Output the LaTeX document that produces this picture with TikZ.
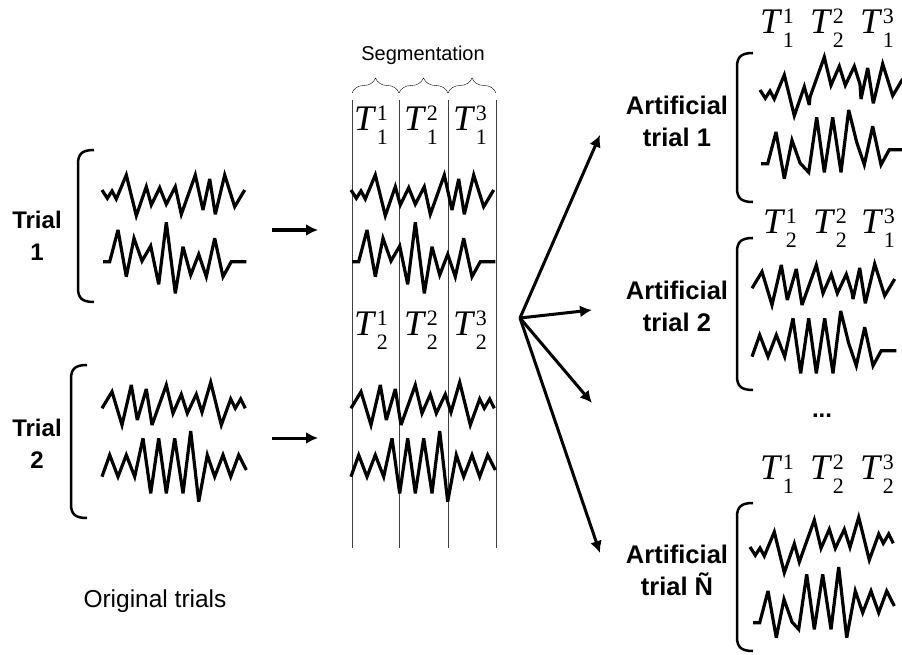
\documentclass[tikz,border=0pt]{standalone}
\usepackage{fontspec}
\setmainfont{Liberation Sans}
\newfontfamily\segfont{Liberation Serif}
\usepackage{tikz}
\usetikzlibrary{calc, decorations.pathreplacing, arrows.meta}

% the four recorded signals, each cut into its three segments
\newcommand{\sigAa}{(102,190) -- (107.3,198.3) -- (112,191) -- (116.3,199) -- (126.3,175) -- (136.3,215.7) -- (146.3,186.7) -- (151.3,205)}
\newcommand{\sigAb}{(159.7,187.7) -- (166.3,204.3) -- (175.3,186.7) -- (181.3,214.3) -- (195.3,175)}
\newcommand{\sigAc}{(203,210) -- (209.7,179) -- (215.3,214.3) -- (224.7,175) -- (234.7,206.7) -- (244.7,190)}
\newcommand{\sigBa}{(103,261.7) -- (109.7,261.7) -- (118,230) -- (126.3,276.7) -- (134,238.3) -- (142,261)}
\newcommand{\sigBb}{(150.7,246) -- (158.7,284.3) -- (166.3,222.3) -- (175.3,293.3) -- (183,246.7) -- (190.7,275)}
\newcommand{\sigBc}{(198.7,254.3) -- (206.3,276.7) -- (214.7,238.3) -- (223,276.7) -- (231.3,261.7) -- (246.3,261.7)}
\newcommand{\sigCa}{(102,408.3) -- (112,391.7) -- (122,425) -- (131.3,385) -- (137.3,420) -- (146.3,389)}
\newcommand{\sigCb}{(152,425) -- (166.3,385) -- (173,413.3) -- (181.3,394.3) -- (187.3,413.3) -- (196.3,394.3) -- (202,412.3)}
\newcommand{\sigCc}{(210.7,382.3) -- (221.3,425) -- (230.7,399) -- (235.3,408.3) -- (240.7,399) -- (245.3,408.3)}
\newcommand{\sigDa}{(102,476.7) -- (109.7,455) -- (118,476.7) -- (126.3,455) -- (134.7,476.7) -- (143,438.3)}
\newcommand{\sigDb}{(150.7,493.3) -- (158.7,438.3) -- (166.3,493.3) -- (174.7,438.3) -- (183,493.3) -- (190.7,431)}
\newcommand{\sigDc}{(198.7,501.7) -- (207.3,455) -- (214.7,476.7) -- (223,455) -- (230.7,476.7) -- (238.7,455) -- (246.3,470)}

% x, top, bottom
\newcommand{\trialbracket}[3]{%
  \draw[bracket] (#1+16,#2) .. controls (#1+4,#2) and (#1,#2+4) .. (#1,#2+14) -- (#1,#3-14)
    .. controls (#1,#3-4) and (#1+4,#3) .. (#1+16,#3);}

% segment T, trial #1, piece #2
\newcommand{\segT}[2]{\textit{T}\kern0.5pt\rlap{\raisebox{10pt}{\fontsize{22}{22}\selectfont #2}}\raisebox{-14pt}{\fontsize{22}{22}\selectfont #1}}

\tikzset{
 wave/.style = {
    line width=3.2pt, line join=miter, miter limit=4},
 line/.style = {
    draw, line width=3pt, -{Latex[length=12pt,width=12pt]}},
 bracket/.style = {
    line width=2.5pt},
 divider/.style = {
    draw, line width=0.9pt, black!75},
 trial label/.style = {
    align=center, font=\fontsize{24}{32}\selectfont\bfseries},
 art label/.style = {
    align=center, font=\fontsize{25.5}{32}\selectfont\bfseries},
 seg label/.style = {
    inner sep=0pt, font=\segfont\fontsize{36}{38}\selectfont},
}

\begin{document}
\begin{tikzpicture}[x=1pt, y=-1pt]
\useasboundingbox (0,0) rectangle (902,655);

                            % Original trials
                            \node [trial label] (trial1) at (37,236) {Trial\\1};
                            \node [trial label] (trial2) at (37,444) {Trial\\2};
                            \node [font=\fontsize{24.5}{28}\selectfont] (orig) at (155,601) {Original trials};
                            \trialbracket{78}{150}{302}
                            \trialbracket{71}{365}{518}
                            \draw[wave] \sigAa -- \sigAb -- \sigAc;
                            \draw[wave] \sigBa -- \sigBb -- \sigBc;
                            \draw[wave] \sigCa -- \sigCb -- \sigCc;
                            \draw[wave] \sigDa -- \sigDb -- \sigDc;

                            \coordinate (o1) at (272,230);
                            \coordinate (s1) at (318,230);
                            \coordinate (o2) at (272,438);
                            \coordinate (s2) at (318,438);
                            \path [line] (o1) -- (s1);
                            \path [line] (o2) -- (s2);

                            % Segmentation
                            \node [font=\fontsize{20}{24}\selectfont] (seg) at (423,55) {Segmentation};
                            \foreach \a/\b in {352/399,399/448,448/496}
                                \draw [decorate,decoration={brace,amplitude=15pt}] (\a,93) -- (\b,93);
                            \foreach \x in {352,399,448,496}
                                \draw [divider] (\x,100) -- (\x,548);
                            \foreach \i/\x in {1/371,2/421,3/470} {
                                \node [seg label] (t1\i) at (\x,125) {\segT{1}{\i}};
                                \node [seg label] (t2\i) at (\x,330) {\segT{2}{\i}};
                            }
                            \begin{scope}[shift={(249,0)}]
                                \draw[wave] \sigAa -- \sigAb -- \sigAc;
                                \draw[wave] \sigBa -- \sigBb -- \sigBc;
                                \draw[wave] \sigCa -- \sigCb -- \sigCc;
                                \draw[wave] \sigDa -- \sigDb -- \sigDc;
                            \end{scope}

                            % Fan of artificial trials
                            \coordinate (fan) at (520,318);
                            \coordinate (f1) at (600,135);
                            \coordinate (f2) at (592,310);
                            \coordinate (f3) at (592,403);
                            \coordinate (fN) at (600,553);
                            \foreach \f in {f1,f2,f3,fN}
                                \path [line] (fan) -- (\f);

                            % Artificial trials
                            \node [art label] (art1) at (677,121) {Artificial\\trial 1};
                            \node [art label] (art2) at (677,306) {Artificial\\trial 2};
                            \node [art label] (artN) at (677,570) {Artificial\\trial Ñ};
                            \node [font=\fontsize{24}{24}\selectfont\bfseries] (dots) at (822,416) {...};
                            \trialbracket{737}{53}{202}
                            \trialbracket{737}{238}{390}
                            \trialbracket{737}{503}{651}

                            \node [seg label] (a11) at (777,28) {\segT{1}{1}};
                            \node [seg label] (a12) at (827,28) {\segT{2}{2}};
                            \node [seg label] (a13) at (877,28) {\segT{1}{3}};
                            \node [seg label] (a21) at (780,228) {\segT{2}{1}};
                            \node [seg label] (a22) at (830,228) {\segT{2}{2}};
                            \node [seg label] (a23) at (878,228) {\segT{1}{3}};
                            \node [seg label] (aN1) at (777,474) {\segT{1}{1}};
                            \node [seg label] (aN2) at (827,474) {\segT{2}{2}};
                            \node [seg label] (aN3) at (877,474) {\segT{2}{3}};

                            \draw[wave] {[shift={(658,-100)}] \sigAa} {[shift={(658,-328)}] -- \sigCb} {[shift={(658,-111)}] -- \sigAc};
                            \draw[wave] {[shift={(658,-98)}] \sigBa} {[shift={(658,-321)}] -- \sigDb} {[shift={(658,-112)}] -- \sigBc};
                            \draw[wave] {[shift={(650,-120)}] \sigCa -- \sigCb} {[shift={(650,89)}] -- \sigAc};
                            \draw[wave] {[shift={(650,-120)}] \sigDa -- \sigDb} {[shift={(650,89)}] -- \sigBc};
                            \draw[wave] {[shift={(648,357)}] \sigAa} {[shift={(648,135)}] -- \sigCb -- \sigCc};
                            \draw[wave] {[shift={(650,361)}] \sigBa} {[shift={(648,136)}] -- \sigDb -- \sigDc};

\end{tikzpicture}
\end{document}
